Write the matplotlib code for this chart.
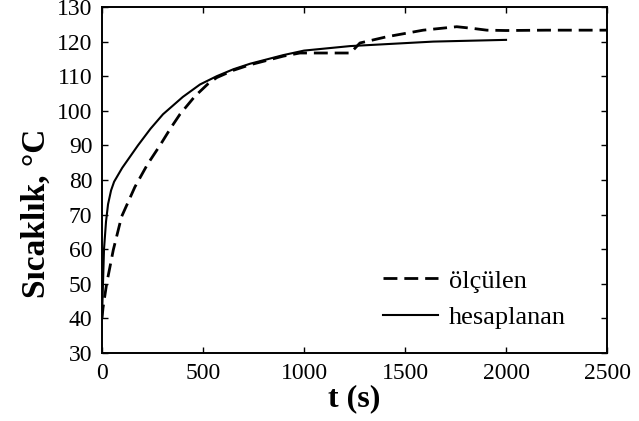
import matplotlib
matplotlib.use("Agg")
import matplotlib.pyplot as plt

plt.rcParams['font.family'] = ['Liberation Serif', 'DejaVu Serif']

# hesaplanan (solid)
t_hes = [0, 5, 10, 20, 30, 45, 60, 100, 178, 240, 302, 400, 485, 568, 650, 733, 898, 1000, 1228, 1640, 2000]
T_hes = [40, 50, 60, 68, 73, 77, 79.5, 83.5, 90, 94.8, 99, 104, 107.6, 110, 112, 113.6, 116.1, 117.4, 118.7, 120, 120.5]

# ölçülen (dashed)
t_olc = [0, 5, 23, 56, 97, 163, 225, 287, 340, 386, 460, 525, 568, 650, 733, 898, 980, 1230, 1277, 1410, 1590, 1756, 1837, 1905, 2000, 2200, 2500]
T_olc = [40, 43, 50, 59.8, 69.4, 78, 84.5, 90, 95, 99, 104.2, 107.8, 109.6, 111.7, 113.3, 115.8, 116.7, 116.7, 119.6, 121.4, 123.3, 124.3, 123.8, 123.3, 123.2, 123.3, 123.3]

fig = plt.figure(figsize=(6.39, 4.21), dpi=100)
ax = fig.add_axes([0.1596, 0.1615, 0.7904, 0.8219])

ax.plot(t_olc, T_olc, color='black', lw=2.0, dashes=(5, 2.5), label='ölçülen')
ax.plot(t_hes, T_hes, color='black', lw=1.5, label='hesaplanan')

ax.set_xlim(0, 2500)
ax.set_ylim(30, 130)
ax.set_xticks([0, 500, 1000, 1500, 2000, 2500])
ax.set_yticks(range(30, 131, 10))
ax.tick_params(direction='in', top=True, right=True, labelsize=17, length=4, width=1)
ax.tick_params(axis='y', pad=7)
ax.tick_params(axis='x', pad=7)
for s in ax.spines.values():
    s.set_linewidth(1.4)

ax.set_xlabel('t (s)', fontsize=23, fontweight='bold', labelpad=0)
ax.set_ylabel('Sıcaklık, °C', fontsize=24, fontweight='bold')
ax.yaxis.set_label_coords(-0.10, 0.405)

ax.legend(loc='lower right', bbox_to_anchor=(0.965, 0.0), frameon=False, fontsize=19,
          handlelength=2.1, handletextpad=0.4, labelspacing=0.5)

fig.savefig('out.png', dpi=100)
